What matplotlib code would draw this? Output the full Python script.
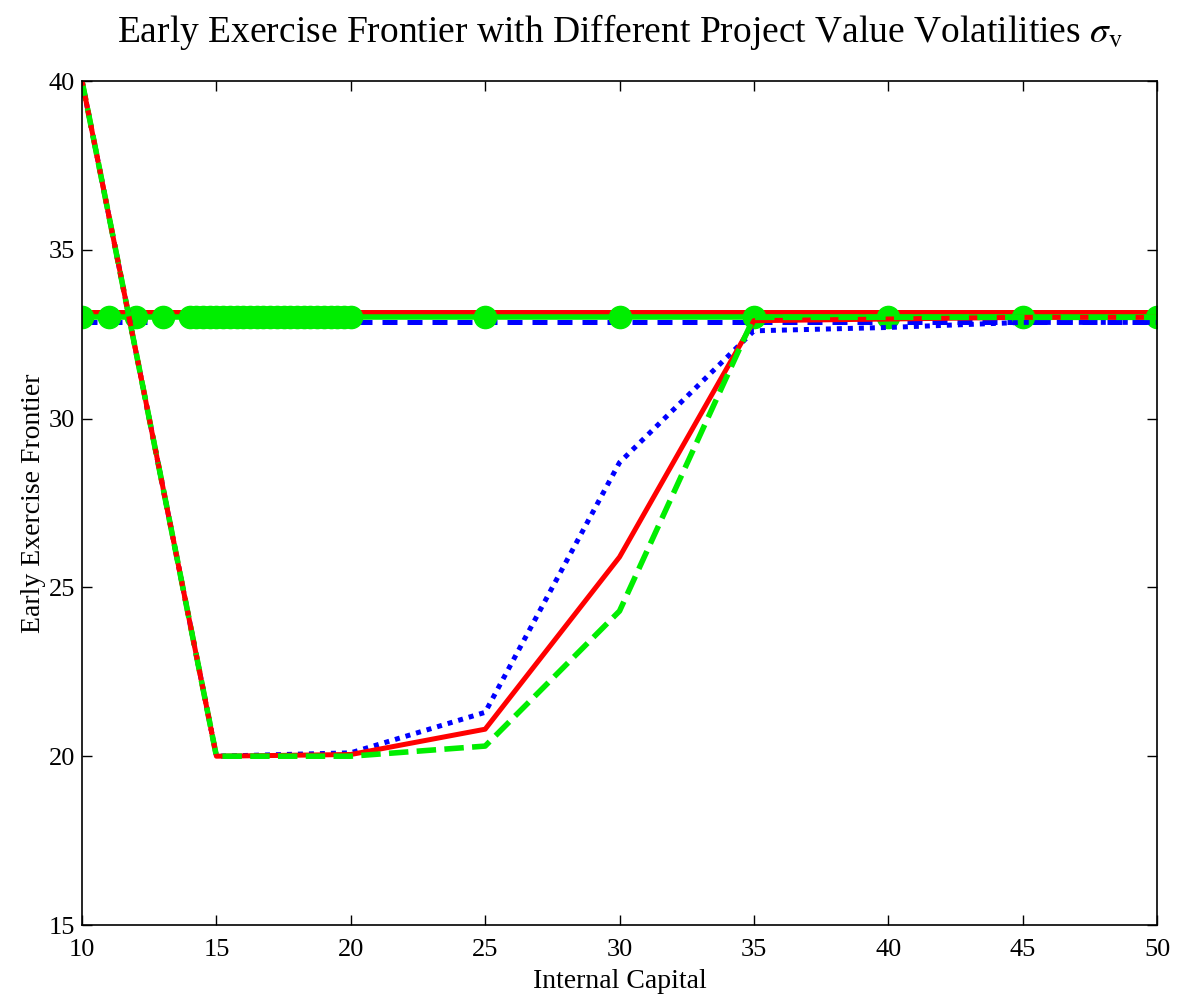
import matplotlib
matplotlib.use("Agg")
import matplotlib.pyplot as plt

# capital grid for the frontier curves
capital = [10, 15, 20, 25, 30, 35, 40, 45, 50]
frontier_low = [40, 20, 20.1, 21.3, 28.7, 32.6, 32.7, 32.85, 32.85]   # blue dotted
frontier_mid = [40, 20, 20.05, 20.8, 25.9, 32.9, 32.95, 33.0, 33.0]   # red solid
frontier_high = [40, 20, 20.0, 20.3, 24.3, 33.0, 33.0, 33.0, 33.0]    # green dashed

# flat reference levels (no early exercise)
flat_x = [10, 50]
flat_red = [33.15, 33.15]
flat_blue = [32.85, 32.85]

# green marker grid
marker_x = [10, 11, 12, 13, 14, 14.25, 14.5, 14.75, 15, 15.25, 15.5, 15.75,
            16, 16.25, 16.5, 16.75, 17, 17.25, 17.5, 17.75, 18, 18.25, 18.5,
            18.75, 19, 19.25, 19.5, 19.75, 20, 25, 30, 35, 40, 45, 50]
marker_y = [33.0] * len(marker_x)

plt.rcParams["font.family"] = ["Liberation Serif", "DejaVu Serif"]
plt.rcParams["mathtext.fontset"] = "stix"

fig = plt.figure(figsize=(11.84, 10.05), dpi=100)
ax = fig.add_axes([0.0693, 0.0796, 0.9079, 0.8398])

ax.plot(flat_x, flat_red, color="red", lw=3.6, solid_capstyle="butt")
ax.plot(flat_x, flat_blue, color="blue", lw=3.6, ls=(0, (3, 2)))
ax.plot(marker_x, marker_y, color="#00ee00", lw=4, marker="o", ms=16,
        mec="#00ee00", mfc="#00ee00")

ax.plot(capital, frontier_low, color="blue", lw=3.6, ls=(0, (1, 1.2)))
ax.plot(capital, frontier_mid, color="red", lw=3.6)
ax.plot(capital, frontier_high, color="#00ee00", lw=4, ls=(0, (3.5, 1.5)))
# steep segment appears green with red dots on top
ax.plot(capital[:2], frontier_mid[:2], color="red", lw=3.6, ls=(0, (1, 2)))

ax.set_xlim(10, 50)
ax.set_ylim(15, 40)
ax.set_xticks(capital)
ax.set_yticks([15, 20, 25, 30, 35, 40])
ax.tick_params(direction="in", top=True, right=True, length=7, width=1,
               labelsize=19)
ax.tick_params(axis="x", pad=10)
ax.tick_params(axis="y", pad=5)
for s in ax.spines.values():
    s.set_linewidth(1.2)

ax.set_title(r"Early Exercise Frontier with Different Project Value Volatilities $\sigma_{\rm v}$",
             fontsize=27, pad=28)
ax.set_xlabel("Internal Capital", fontsize=20, labelpad=6)
ax.set_ylabel("Early Exercise Frontier", fontsize=20, labelpad=2)

fig.savefig("out.png", dpi=100)
